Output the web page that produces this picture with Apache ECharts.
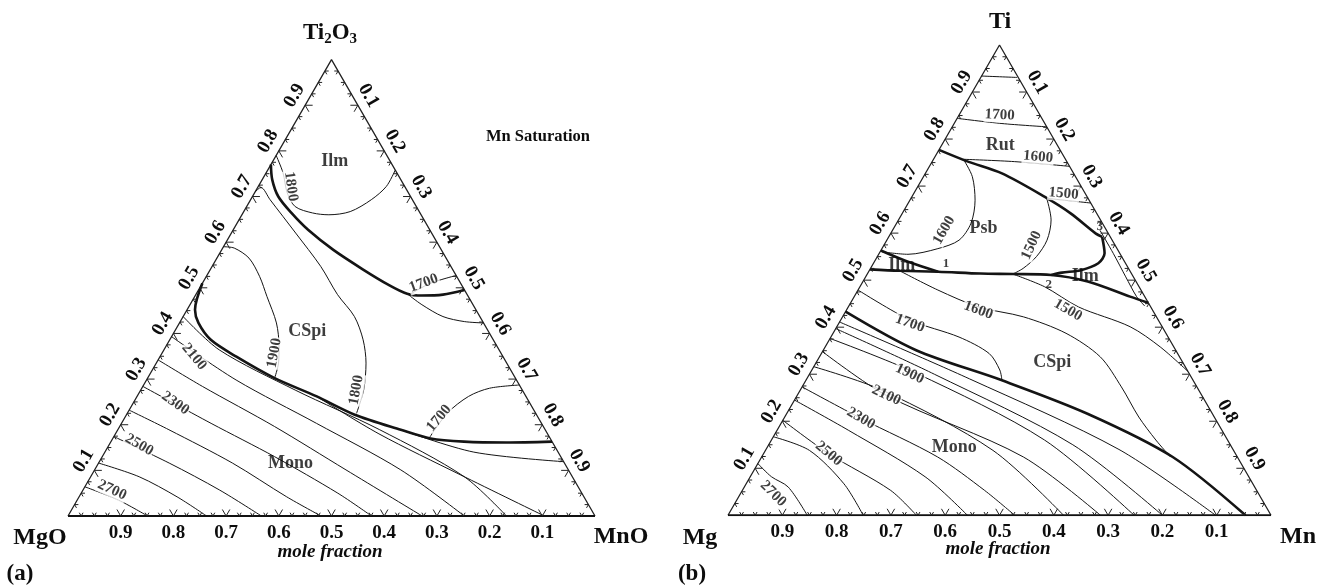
<!DOCTYPE html>
<html><head><meta charset="utf-8">
<script src="https://cdn.jsdelivr.net/npm/echarts/dist/echarts.min.js"></script>
<style>html,body{margin:0;padding:0;background:#fff}#c{width:1329px;height:588px}</style>
</head><body><div id="c"></div>
<script>
// ---------- DATA: points are [MnO (or Mn) fraction, Ti2O3 (or Ti) fraction] ----------
const tickLabels = ['0.1','0.2','0.3','0.4','0.5','0.6','0.7','0.8','0.9'];

// (a) MgO - MnO - Ti2O3
const a_ilm1800   = [[0,0.79],[0.032,0.752],[0.062,0.708],[0.092,0.678],[0.132,0.664],[0.165,0.660],[0.202,0.667],[0.229,0.693],[0.243,0.722],[0.242,0.758]];
const a_bndUpper  = [[0,0.77],[0.019,0.737],[0.049,0.700],[0.092,0.664],[0.142,0.627],[0.212,0.583],[0.290,0.540],[0.354,0.507],[0.400,0.487],[0.430,0.483],[0.469,0.485],[0.505,0.495]];
const a_1800      = [[0,0.71],[0.006,0.72],[0.037,0.693],[0.122,0.620],[0.206,0.547],[0.269,0.485],[0.325,0.437],[0.367,0.386],[0.398,0.335],[0.423,0.276],[0.435,0.225]];
const a_bndLower  = [[0,0.51],[0.015,0.452],[0.036,0.423],[0.078,0.386],[0.145,0.349],[0.241,0.302],[0.341,0.262],[0.433,0.222],[0.537,0.189],[0.603,0.170],[0.670,0.163],[0.751,0.161],[0.837,0.163]];
const a_1900      = [[0,0.59],[0.022,0.587],[0.061,0.565],[0.101,0.525],[0.137,0.481],[0.184,0.423],[0.215,0.371],[0.232,0.335],[0.241,0.302]];
const a_1700up    = [[0.405,0.485],[0.433,0.510],[0.473,0.527]];
const a_1700up2   = [[0.400,0.487],[0.440,0.463],[0.493,0.437],[0.539,0.426],[0.577,0.423]];
const a_1700low   = [[0.600,0.170],[0.607,0.225],[0.629,0.262],[0.660,0.280],[0.713,0.287]];
const a_2700 = [[0,0.064],[0.078,0.035],[0.151,0]];
const a_2600 = [[0,0.116],[0.092,0.086],[0.186,0.042],[0.263,0]];
const a_2500 = [[0,0.174],[0.134,0.116],[0.259,0.057],[0.367,0]];
const a_2400 = [[0,0.232],[0.097,0.189],[0.254,0.116],[0.394,0.042],[0.48,0]];
const a_2300 = [[0,0.284],[0.170,0.203],[0.327,0.130],[0.487,0.050],[0.576,0]];
const a_2200 = [[0,0.342],[0.113,0.284],[0.294,0.196],[0.477,0.101],[0.672,0]];
const a_2100 = [[0,0.393],[0.170,0.298],[0.370,0.203],[0.581,0.101],[0.752,0]];
const a_2000 = [[0,0.437],[0.105,0.364],[0.293,0.276],[0.497,0.189],[0.709,0.086],[0.832,0]];
const a_1900m = [[0.341,0.262],[0.50,0.18],[0.70,0.09],[0.904,0]];
const a_1800m = [[0.537,0.189],[0.70,0.14],[0.881,0.119]];

const a_labels = [
  ['Ilm',[0.118,0.776]],['CSpi',[0.252,0.404]],['Mono',[0.364,0.116]]
];
const a_tLabels = [
  ['1800',[0.062,0.722],-82],['1900',[0.213,0.357],80],['1800',[0.409,0.276],80],
  ['1700',[0.420,0.510],20],['1700',[0.597,0.214],50],
  ['2100',[0.065,0.349],-50],['2300',[0.080,0.247],-35],['2500',[0.057,0.156],-30],['2700',[0.055,0.057],-25]
];

// (b) Mg - Mn - Ti
const b_top      = [[0,0.934],[0.067,0.931]];
const b_1700r    = [[0,0.844],[0.088,0.833],[0.174,0.826]];
const b_rutBnd   = [[0,0.777],[0.066,0.752],[0.141,0.727],[0.245,0.677],[0.310,0.642],[0.378,0.599],[0.393,0.592]];
const b_rut1600  = [[0.055,0.757],[0.152,0.752],[0.258,0.742]];
const b_rut1500  = [[0.250,0.674],[0.336,0.664]];
const b_psb1600  = [[0.055,0.757],[0.090,0.720],[0.120,0.670],[0.137,0.621],[0.133,0.585],[0.103,0.567],[0.054,0.555],[0.004,0.56]];
const b_psb1500  = [[0.250,0.674],[0.281,0.628],[0.295,0.585],[0.293,0.550],[0.281,0.525],[0.268,0.513]];
const b_psbLoop  = [[0.393,0.592],[0.415,0.557],[0.414,0.536],[0.389,0.521],[0.357,0.516],[0.34,0.511]];
const b_horiz    = [[0,0.523],[0.056,0.520],[0.128,0.518],[0.208,0.514],[0.268,0.513],[0.34,0.511],[0.414,0.497],[0.508,0.465],[0.548,0.452]];
const b_ilmLeft  = [[0,0.563],[0.062,0.539],[0.128,0.518]];
const b_edgeThin = [[0.382,0.606],[0.431,0.557],[0.479,0.507],[0.52,0.465],[0.545,0.445]];
const b_bnd      = [[0,0.433],[0.171,0.351],[0.361,0.287],[0.554,0.216],[0.757,0.124],[0.953,0]];
const b_1700c    = [[0,0.479],[0.128,0.415],[0.236,0.379],[0.309,0.344],[0.346,0.309],[0.361,0.287]];
const b_1600c    = [[0.056,0.52],[0.147,0.479],[0.240,0.443],[0.333,0.422],[0.429,0.387],[0.517,0.337],[0.588,0.273],[0.652,0.209],[0.708,0.160],[0.753,0.124]];
const b_1500c    = [[0.268,0.513],[0.340,0.486],[0.424,0.443],[0.540,0.401],[0.617,0.358],[0.694,0.306]];
const b_2700 = [[0,0.110],[0.039,0.082],[0.081,0.060],[0.146,0]];
const b_2600 = [[0,0.167],[0.081,0.138],[0.180,0.067],[0.249,0]];
const b_2500 = [[0,0.202],[0.120,0.131],[0.273,0.053],[0.347,0]];
const b_2400 = [[0,0.245],[0.131,0.181],[0.322,0.082],[0.441,0]];
const b_2300 = [[0,0.273],[0.142,0.206],[0.324,0.124],[0.446,0.053],[0.528,0]];
const b_2200 = [[0,0.316],[0.151,0.266],[0.419,0.138],[0.618,0]];
const b_2100 = [[0,0.348],[0.164,0.255],[0.482,0.124],[0.686,0]];
const b_2000 = [[0,0.376],[0.196,0.302],[0.503,0.160],[0.748,0]];
const b_1900 = [[0,0.397],[0.230,0.300],[0.560,0.150],[0.800,0]];
const b_1800 = [[0,0.411],[0.300,0.290],[0.650,0.140],[0.898,0]];

const b_labels = [
  ['Rut',[0.108,0.787]],['Psb',[0.165,0.611]],['Ilm',[0.054,0.532]],['Ilm',[0.404,0.508]],
  ['CSpi',[0.434,0.326]],['Mono',[0.344,0.145]]
];
const b_tLabels = [
  ['1700',[0.075,0.851],-3],['1600',[0.190,0.762],-5],['1500',[0.276,0.684],-5],
  ['1600',[0.095,0.606],60],['1500',[0.272,0.574],65],
  ['1700',[0.131,0.408],-20],['1600',[0.243,0.436],-20],['1500',[0.408,0.436],-30],
  ['1900',[0.184,0.301],-25],['2100',[0.164,0.255],-25],['2300',[0.142,0.206],-30],
  ['2500',[0.120,0.131],-40],['2700',[0.060,0.046],-45]
];
const b_points = [['1',[0.134,0.535]],['2',[0.345,0.491]],['3',[0.378,0.613]]];

// ---------- helpers ----------
const S3 = Math.sqrt(3) / 2;
const FONT = '"Liberation Serif","Times New Roman",serif';
const INK = '#0d0d0d';
function tern(p) { return [p[0] + p[1] / 2, p[1] * S3]; }

function lineSeries(d, gi, w) {
  return { type: 'line', xAxisIndex: gi, yAxisIndex: gi, data: d.map(tern), smooth: 0.3,
    symbol: 'none', silent: true, animation: false, z: 3,
    lineStyle: { color: '#141414', width: w } };
}

function buildTicks() {
  const out = [];
  for (let k = 1; k < 40; k++) {
    const f = k * 0.025, major = k % 4 === 0 ? 1 : 0, li = major ? k / 4 - 1 : -1;
    out.push(tern([f, 0]).concat([0, major, major ? 8 - li : -1]));
    out.push(tern([0, f]).concat([1, major, li]));
    out.push(tern([f, 1 - f]).concat([2, major, li]));
  }
  return out;
}
const DIRS = [[[0.5, -S3], [-0.5, -S3]], [[1, 0], [0.5, S3]], [[-1, 0], [-0.5, S3]]];
function tickRender(params, api) {
  const p = api.coord([api.value(0), api.value(1)]);
  const e = api.value(2), mj = api.value(3), li = api.value(4);
  const L = mj ? 7.5 : 3.8;
  const ch = DIRS[e].map(d => ({ type: 'line',
    shape: { x1: p[0], y1: p[1], x2: p[0] + d[0] * L, y2: p[1] + d[1] * L },
    style: { stroke: '#222', lineWidth: 1 } }));
  if (mj) {
    let x = p[0], y = p[1], rot = 0;
    if (e === 0) { y += 17; }
    else if (e === 1) { x += -0.866 * 14 + 0.5 * 3; y += -0.5 * 14 - S3 * 3; rot = Math.PI / 3; }
    else { x += 0.866 * 14 - 0.5 * 3; y += -0.5 * 14 - S3 * 3; rot = -Math.PI / 3; }
    ch.push({ type: 'text', x: x, y: y, rotation: rot,
      style: { text: tickLabels[li], font: 'bold 19px ' + FONT, fill: INK, align: 'center', verticalAlign: 'middle' } });
  }
  return { type: 'group', children: ch };
}

function labelSeries(list, gi, size, bg) {
  return { type: 'scatter', xAxisIndex: gi, yAxisIndex: gi, symbolSize: 1, silent: true, animation: false, z: 6,
    itemStyle: { color: 'rgba(0,0,0,0)' },
    data: list.map(l => ({ value: tern(l[1]),
      label: { show: true, position: 'inside', formatter: l[0], rotate: l[2] || 0,
        fontFamily: FONT, fontWeight: 'bold', fontSize: size, color: INK,
        backgroundColor: bg ? '#fff' : 'transparent', padding: bg ? [0, 1] : 0 } })) };
}

const sides = [[0, 0], [0.5, S3], [1, 0]];
const base = [[0, 0], [1, 0]];

const series = [];
[0, 1].forEach(gi => {
  series.push({ type: 'line', xAxisIndex: gi, yAxisIndex: gi, data: sides, symbol: 'none', silent: true,
    animation: false, lineStyle: { color: '#222', width: 1.3 }, z: 2 });
  series.push({ type: 'line', xAxisIndex: gi, yAxisIndex: gi, data: base, symbol: 'none', silent: true,
    animation: false, lineStyle: { color: '#111', width: 2 }, z: 2 });
  series.push({ type: 'custom', xAxisIndex: gi, yAxisIndex: gi, renderItem: tickRender, data: buildTicks(),
    silent: true, animation: false, z: 4, encode: { x: 0, y: 1 } });
});

const thinA = [a_ilm1800, a_1800, a_1900, a_1700up, a_1700up2, a_1700low, a_2700, a_2600, a_2500, a_2400, a_2300, a_2200, a_2100, a_2000, a_1900m, a_1800m];
const thickA = [a_bndUpper, a_bndLower];
const thinB = [b_top, b_1700r, b_rut1600, b_rut1500, b_psb1600, b_psb1500, b_edgeThin, b_1700c, b_1600c, b_1500c,
  b_2700, b_2600, b_2500, b_2400, b_2300, b_2200, b_2100, b_2000, b_1900, b_1800];
const thickB = [b_rutBnd, b_psbLoop, b_horiz, b_ilmLeft, b_bnd];
thinA.forEach(d => series.push(lineSeries(d, 0, 1)));
thickA.forEach(d => series.push(lineSeries(d, 0, 2.6)));
thinB.forEach(d => series.push(lineSeries(d, 1, 1)));
thickB.forEach(d => series.push(lineSeries(d, 1, 2.6)));
series.push(labelSeries(a_labels, 0, 18, false));
series.push(labelSeries(a_tLabels, 0, 15, true));
series.push(labelSeries(b_labels, 1, 18, false));
series.push(labelSeries(b_tLabels, 1, 15, true));
series.push(labelSeries(b_points, 1, 13, false));

function txt(x, y, text, size, style) {
  return { type: 'text', x: x, y: y, z: 10,
    style: { text: text, font: (style || 'bold') + ' ' + size + 'px ' + FONT, fill: INK, align: 'center', verticalAlign: 'middle' } };
}
const graphic = [
  txt(40, 538, 'MgO', 24), txt(621, 537, 'MnO', 24),
  txt(700, 538, 'Mg', 24), txt(1298, 537, 'Mn', 24), txt(1000, 22, 'Ti', 24),
  { type: 'text', x: 330, y: 33, z: 10, style: { text: '{a|Ti}{s|2}{a|O}{s|3}', align: 'center', verticalAlign: 'middle',
      rich: { a: { font: 'bold 23px ' + FONT, fill: INK }, s: { font: 'bold 15px ' + FONT, fill: INK, padding: [12, 0, 0, 0] } } } },
  txt(20, 574, '(a)', 23), txt(692, 574, '(b)', 23),
  txt(538, 137, 'Mn Saturation', 16.5),
  txt(330, 552, 'mole fraction', 19, 'italic bold'),
  txt(998, 549, 'mole fraction', 19, 'italic bold')
];

const chart = echarts.init(document.getElementById('c'), null, { renderer: 'canvas' });
chart.setOption({
  animation: false,
  backgroundColor: '#fff',
  grid: [{ left: 68, top: 59.6, width: 527, height: 456.4 }, { left: 728, top: 45, width: 543, height: 470.3 }],
  xAxis: [0, 1].map(gi => ({ gridIndex: gi, type: 'value', min: 0, max: 1, show: false })),
  yAxis: [0, 1].map(gi => ({ gridIndex: gi, type: 'value', min: 0, max: S3, show: false })),
  graphic: graphic,
  series: series
});
</script>
</body></html>
